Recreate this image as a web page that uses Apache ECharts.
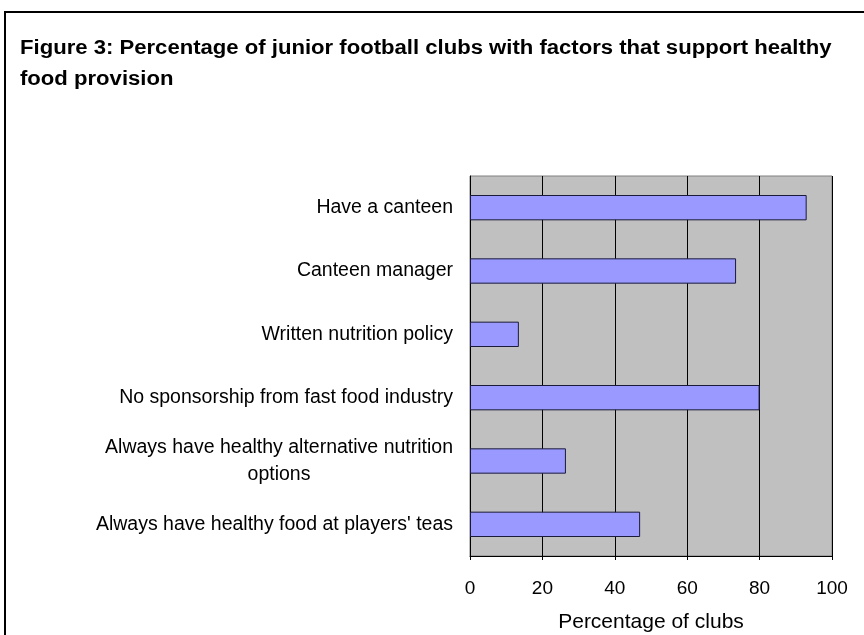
<!DOCTYPE html>
<html>
<head>
<meta charset="utf-8">
<script src="https://cdn.jsdelivr.net/npm/echarts@6/dist/echarts.min.js"></script>
<style>
html,body{margin:0;padding:0;background:#fff;}
#chart{width:864px;height:635px;}
</style>
</head>
<body>
<div id="chart"></div>
<script>
var titleText = "Figure 3: Percentage of junior football clubs with factors that support healthy\nfood provision";
var categories = [
  "Have a canteen",
  "Canteen manager",
  "Written nutrition policy",
  "No sponsorship from fast food industry",
  "Always have healthy alternative nutrition\noptions",
  "Always have healthy food at players' teas"
];
var values = [93, 73.5, 13.5, 80, 26.5, 47];
var xTicks = [0, 20, 40, 60, 80, 100];
var xAxisName = "Percentage of clubs";

var FONT = "'Liberation Sans', Arial, sans-serif";
var chart = echarts.init(document.getElementById('chart'), null, {renderer: 'canvas'});
chart.setOption({
  backgroundColor: '#ffffff',
  animation: false,
  graphic: [{
    type: 'rect',
    shape: {x: 5, y: 12, width: 900, height: 700},
    style: {fill: 'none', stroke: '#000', lineWidth: 2},
    silent: true
  }, {
    type: 'text',
    x: 20, y: 33,
    scaleX: 1.105,
    silent: true,
    style: {
      text: titleText,
      font: "bold 20px 'Liberation Sans', Arial, sans-serif",
      fill: '#000',
      lineHeight: 31,
      align: 'left',
      verticalAlign: 'top'
    }
  }],
  grid: {
    left: 470, top: 176, width: 362, height: 380,
    outerBoundsMode: 'none',
    containLabel: false,
    show: true, backgroundColor: '#C0C0C0', borderColor: '#808080', borderWidth: 1
  },
  xAxis: {
    type: 'value',
    min: xTicks[0], max: xTicks[xTicks.length - 1], interval: 20,
    name: xAxisName, nameLocation: 'middle', nameGap: 56,
    nameTextStyle: {fontFamily: FONT, fontSize: 21, color: '#000'},
    axisLine: {show: true, lineStyle: {color: '#000', width: 1}},
    axisTick: {show: true, inside: false, length: 4, lineStyle: {color: '#000'}},
    axisLabel: {fontFamily: FONT, fontSize: 19, color: '#000', margin: 23},
    splitLine: {show: true, lineStyle: {color: '#000', width: 1}}
  },
  yAxis: {
    type: 'category',
    data: categories,
    inverse: true,
    axisLine: {show: true, lineStyle: {color: '#000', width: 1}},
    axisTick: {show: false},
    splitLine: {show: false},
    axisLabel: {
      margin: 17,
      formatter: function (v) {
        return v.split('\n').map(function (s) { return '{c|' + s + '}'; }).join('\n');
      },
      rich: {c: {fontFamily: FONT, fontSize: 19.5, color: '#000', align: 'center', lineHeight: 27}}
    }
  },
  series: [{
    type: 'bar',
    data: values,
    barCategoryGap: '60%',
    itemStyle: {color: '#9999FF', borderColor: '#1a1a3a', borderWidth: 1}
  }]
});
</script>
</body>
</html>
